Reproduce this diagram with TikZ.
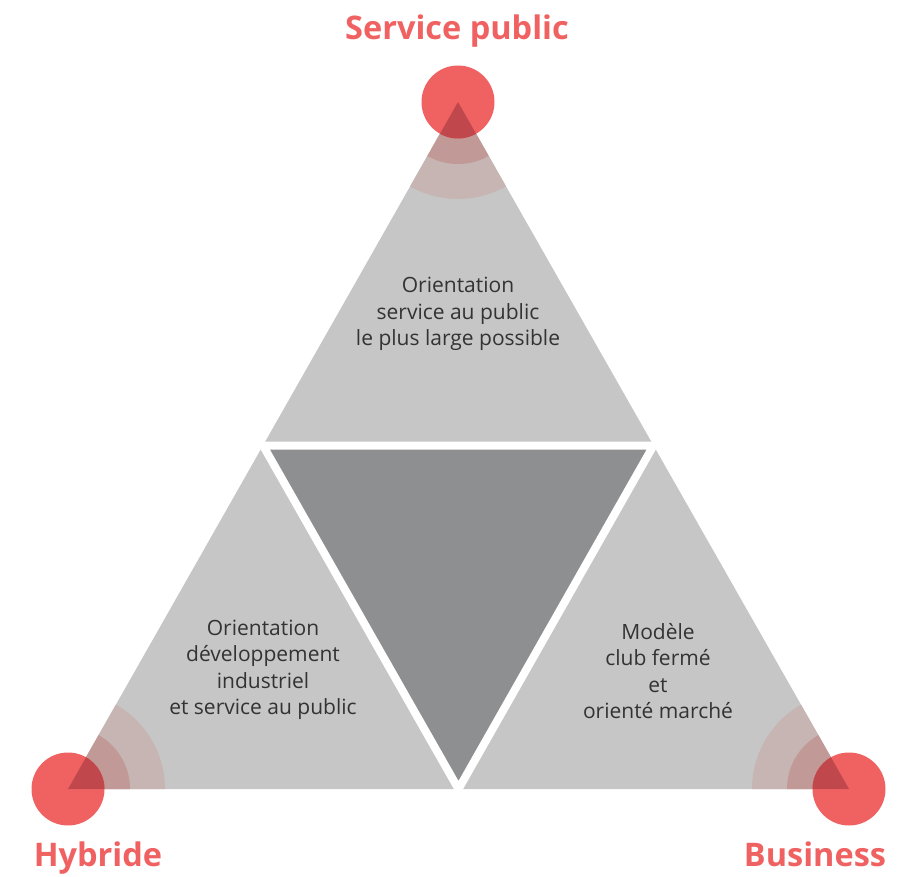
\documentclass[tikz,border=0pt]{standalone}
\usepackage{fontspec}
\setmainfont{Open Sans}
\usetikzlibrary{calc}
\usepackage{xcolor}
\definecolor{redcorner}{HTML}{F06262}
\definecolor{redoverlap}{HTML}{C0484C}
\definecolor{bandinner}{HTML}{C19A97}
\definecolor{bandouter}{HTML}{C6B5B3}
\definecolor{greylight}{HTML}{C6C6C6}
\definecolor{greydark}{HTML}{8E8F91}
\definecolor{textgrey}{HTML}{333333}

\begin{document}
\begin{tikzpicture}[x=1pt,y=-1pt]
\tikzstyle{corner_title} = [text=redcorner, font=\fontsize{32.5}{36}\selectfont\bfseries, inner sep=0pt, anchor=base]
\tikzstyle{block_text} = [text=textgrey, align=center, font=\fontsize{21}{26.5}\selectfont, inner sep=0pt]
\tikzstyle{gap} = [draw=white, line width=8pt, line join=miter]
\useasboundingbox (0,0) rectangle (900,877);

% vertices of the big triangle and middles of its sides
\coordinate (top) at (458,102);
\coordinate (left) at (68,789);
\coordinate (right) at (849,789);
\coordinate (midleft) at ($(top)!0.5!(left)$);
\coordinate (midright) at ($(top)!0.5!(right)$);
\coordinate (midbottom) at ($(left)!0.5!(right)$);

% triangles
\fill[greylight] (top) -- (left) -- (right) -- cycle;
\fill[greydark] (midleft) -- (midright) -- (midbottom) -- cycle;
\draw[gap] (midleft) -- (midright) -- (midbottom) -- cycle;

% corners
\foreach \c in {top,left,right}
{
  \begin{scope}
    \clip (top) -- (left) -- (right) -- cycle;
    \fill[bandouter] (\c) circle (97);
    \fill[bandinner] (\c) circle (62);
  \end{scope}
  \fill[redcorner] (\c) circle (36.5);
  \begin{scope}
    \clip (top) -- (left) -- (right) -- cycle;
    \fill[redoverlap] (\c) circle (36.5);
  \end{scope}
}

% titles
\node[corner_title] (title_top) at (457,40) {Service public};
\node[corner_title] (title_left) at (98,866) {Hybride};
\node[corner_title] (title_right) at (815,866) {Business};

% texts
\node[block_text] (text_top) at (458,314) {Orientation\\service au public\\le plus large possible};
\node[block_text] (text_left) at (263,670) {Orientation\\développement\\industriel\\et service au public};
\node[block_text] (text_right) at (658,671) {Modèle\\club fermé\\et\\orienté marché};
\end{tikzpicture}
\end{document}
